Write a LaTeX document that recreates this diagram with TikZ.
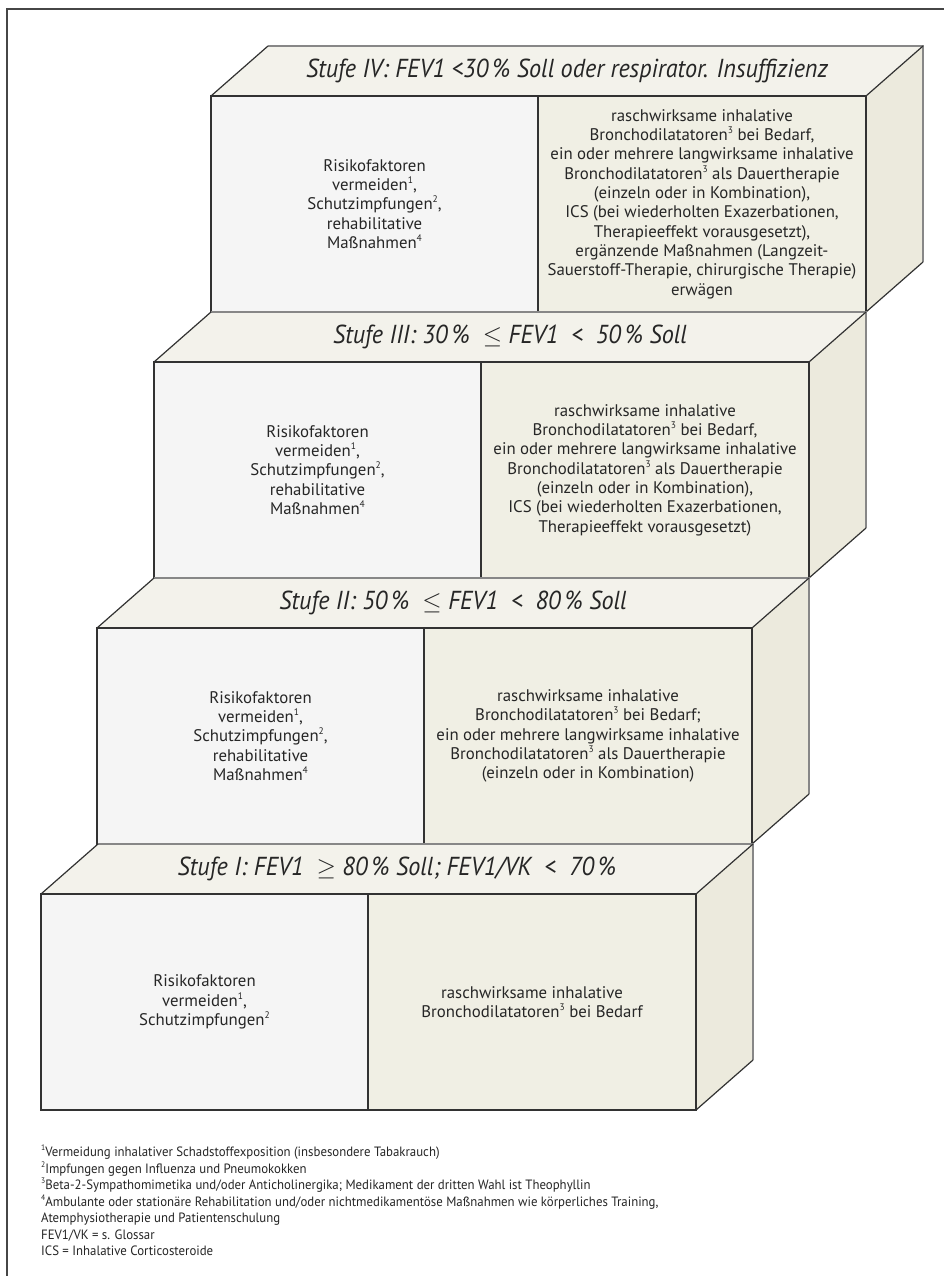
\documentclass[tikz,border=0pt]{standalone}
\usepackage{fontspec}
\setmainfont{PT Sans}
\newfontfamily\titlefont{PT Sans}[FakeStretch=0.93]
\newfontfamily\notefont{PT Sans}[FakeStretch=0.95]
\definecolor{topc}{RGB}{243,242,235}
\definecolor{leftc}{RGB}{245,245,245}
\definecolor{rightc}{RGB}{240,239,228}
\definecolor{sidec}{RGB}{236,234,221}
\definecolor{edgec}{RGB}{50,50,50}
\definecolor{backc}{RGB}{135,135,135}
\definecolor{framec}{RGB}{70,70,70}
\tikzset{
  edge/.style={draw=edgec, line width=1.2pt, line join=miter},
  backedge/.style={draw=backc, line width=1.8pt},
  bodytext/.style={align=center, font=\fontsize{16.8}{19.3}\selectfont, inner sep=0pt, text=black!85},
  titletext/.style={font=\titlefont\itshape\fontsize{26}{30}\selectfont, inner sep=0pt, text=black!85},
  notetext/.style={align=left, font=\notefont\fontsize{13.5}{16.5}\selectfont, inner sep=0pt, anchor=north west, text=black!85},
}
\newcommand\supx[1]{\raisebox{0.42em}{\fontsize{9.5}{9.5}\selectfont #1}}
\newcommand\supn[1]{\raisebox{0.42em}{\fontsize{8}{8}\selectfont #1}}
% #1 name, #2 x0, #3 y0 (front top-left), #4 title, #5 left text, #6 right text
\newcommand\Stufe[6]{%
  \fill[topc] (#2,#3) -- ({#2+57},{#3-50}) -- ({#2+712},{#3-50}) -- ({#2+655},#3) -- cycle;
  \fill[leftc] (#2,#3) rectangle ({#2+327},{#3+216});
  \fill[rightc] ({#2+327},#3) rectangle ({#2+655},{#3+216});
  \fill[sidec] ({#2+655},#3) -- ({#2+712},{#3-50}) -- ({#2+712},{#3+166}) -- ({#2+655},{#3+216}) -- cycle;
  \draw[backedge] ({#2+57},{#3-50}) -- ({#2+712},{#3-50}) -- ({#2+712},{#3+166});
  \draw[edge] (#2,#3) -- ({#2+57},{#3-50});
  \draw[edge] ({#2+655},#3) -- ({#2+712},{#3-50});
  \draw[edge] ({#2+712},{#3+166}) -- ({#2+655},{#3+216});
  \draw[edge] (#2,#3) rectangle ({#2+655},{#3+216});
  \draw[edge] ({#2+327},#3) -- ({#2+327},{#3+216});
  \node[titletext] (#1t) at ({#2+356},{#3-25}) {#4};
  \node[bodytext] (#1l) at ({#2+163.5},{#3+108}) {#5};
  \node[bodytext] (#1r) at ({#2+491},{#3+108}) {#6};
}
\begin{document}
\begin{tikzpicture}[x=1pt,y=-1pt]
\useasboundingbox (0,0) rectangle (944,1276);
\fill[white] (0,0) rectangle (944,1276);
\draw[framec, line width=2.4pt] (7,1290) -- (7,9) -- (960,9);
\Stufe{s4}{211}{96}{Stufe IV: FEV1 <30\,\% Soll oder respirator. Insuffizienz}
  {Risikofaktoren\\vermeiden\supx{1},\\Schutzimpfungen\supx{2},\\rehabilitative\\Maßnahmen\supx{4}}
  {raschwirksame inhalative\\Bronchodilatatoren\supx{3} bei Bedarf,\\ein oder mehrere langwirksame inhalative\\Bronchodilatatoren\supx{3} als Dauertherapie\\(einzeln oder in Kombination),\\ICS (bei wiederholten Exazerbationen,\\Therapieeffekt vorausgesetzt),\\ergänzende Maßnahmen (Langzeit-\\Sauerstoff-Therapie, chirurgische Therapie)\\erwägen}
\Stufe{s3}{154}{362}{Stufe III: 30\,\% \ $\leq$ FEV1 \ < \ 50\,\% Soll}
  {Risikofaktoren\\vermeiden\supx{1},\\Schutzimpfungen\supx{2},\\rehabilitative\\Maßnahmen\supx{4}}
  {raschwirksame inhalative\\Bronchodilatatoren\supx{3} bei Bedarf,\\ein oder mehrere langwirksame inhalative\\Bronchodilatatoren\supx{3} als Dauertherapie\\(einzeln oder in Kombination),\\ICS (bei wiederholten Exazerbationen,\\Therapieeffekt vorausgesetzt)}
\Stufe{s2}{97}{628}{Stufe II: 50\,\% \ $\leq$ FEV1 \ < \ 80\,\% Soll}
  {Risikofaktoren\\vermeiden\supx{1},\\Schutzimpfungen\supx{2},\\rehabilitative\\Maßnahmen\supx{4}}
  {raschwirksame inhalative\\Bronchodilatatoren\supx{3} bei Bedarf;\\ein oder mehrere langwirksame inhalative\\Bronchodilatatoren\supx{3} als Dauertherapie\\(einzeln oder in Kombination)}
\Stufe{s1}{41}{894}{Stufe I: FEV1 \ $\geq$ 80\,\% Soll; FEV1/VK \ < \ 70\,\%}
  {Risikofaktoren\\vermeiden\supx{1},\\Schutzimpfungen\supx{2}}
  {raschwirksame inhalative\\Bronchodilatatoren\supx{3} bei Bedarf}
\node[notetext] (notes) at (41,1145) {\supn{1}Vermeidung inhalativer Schadstoffexposition (insbesondere Tabakrauch)\\
\supn{2}Impfungen gegen Influenza und Pneumokokken\\
\supn{3}Beta-2-Sympathomimetika und/oder Anticholinergika; Medikament der dritten Wahl ist Theophyllin\\
\supn{4}Ambulante oder stationäre Rehabilitation und/oder nichtmedikamentöse Maßnahmen wie körperliches Training,\\
Atemphysiotherapie und Patientenschulung\\
FEV1/VK = s. Glossar\\
ICS = Inhalative Corticosteroide};
\end{tikzpicture}
\end{document}
